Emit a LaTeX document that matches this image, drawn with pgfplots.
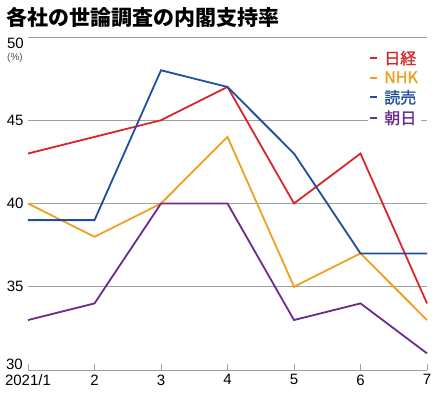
\documentclass[border=0pt]{standalone}
\usepackage{fontspec}
\setmainfont{Liberation Sans}
\newfontfamily\jp{Noto Sans CJK JP}
\newfontfamily\jpm[FakeBold=1.2]{Noto Sans CJK JP}
\usepackage{pgfplots}
\pgfplotsset{compat=1.18}
\definecolor{cNikkei}{HTML}{D9262C}
\definecolor{cNHK}{HTML}{F0A01E}
\definecolor{cYomiuri}{HTML}{1F4E9E}
\definecolor{cAsahi}{HTML}{6B2C8C}
\definecolor{gridc}{HTML}{A0A0A0}
\begin{document}
\begin{tikzpicture}[x=1pt,y=1pt]
\useasboundingbox (0,0) rectangle (438,398);
\node[anchor=west,font=\jp\bfseries\fontsize{21}{23}\selectfont] at (3,381) {各社の世論調査の内閣支持率};
\begin{axis}[
  at={(28pt,28pt)}, anchor=south west,
  scale only axis, width=399pt, height=333pt,
  xmin=1, xmax=7, ymin=30, ymax=50,
  axis x line*=bottom, axis y line*=left,
  y axis line style={draw=none},
  x axis line style={draw=gridc, line width=0.8pt},
  xtick={1,...,7}, xticklabels={2021/1,2,3,4,5,6,7},
  xtick align=inside, major tick length=6pt,
  x tick style={draw=gridc, line width=0.8pt},
  y tick style={draw=none},
  ytick={35,40,45},
  extra y ticks={50}, extra y tick labels={},
  extra y tick style={grid=major},
  ymajorgrids, grid style={draw=gridc, line width=0.8pt},
  tick label style={font=\fontsize{15}{16}\selectfont},
  /pgf/number format/assume math mode=true,
  yticklabel style={xshift=-1pt},
  xticklabel style={yshift=-1pt},
  every axis plot/.append style={line width=1.8pt, line join=miter},
  legend style={at={(0.985,0.968)}, anchor=north east, draw=none, fill=white,
    font=\jpm\fontsize{16}{17}\selectfont, row sep=1.5pt, inner sep=1pt},
  legend cell align=left,
  legend image code/.code={\draw[#1, line width=2pt] (0pt,0pt) -- (7pt,0pt);},
  clip=false,
]
\addplot[cNikkei] coordinates {(1,43) (2,44) (3,45) (4,47) (5,40) (6,43) (7,34)};
\addlegendentry{\hspace{4pt}\textcolor{cNikkei}{日経}}
\addplot[cNHK] coordinates {(1,40) (2,38) (3,40) (4,44) (5,35) (6,37) (7,33)};
\addlegendentry{\hspace{4pt}\textcolor{cNHK}{NHK}}
\addplot[cYomiuri] coordinates {(1,39) (2,39) (3,48) (4,47) (5,43) (6,37) (7,37)};
\addlegendentry{\hspace{4pt}\textcolor{cYomiuri}{読売}}
\addplot[cAsahi] coordinates {(1,33) (2,34) (3,40) (4,40) (5,33) (6,34) (7,31)};
\addlegendentry{\hspace{4pt}\textcolor{cAsahi}{朝日}}
\node[anchor=north east, font=\fontsize{15}{16}\selectfont, inner sep=0pt] at (axis cs:1,50) [xshift=-4pt, yshift=-1pt] {50};
\node[anchor=north east, font=\fontsize{10}{11}\selectfont, text=black!70, inner sep=0pt] at (axis cs:1,50) [xshift=-5pt, yshift=-16pt] {(\%)};
\node[anchor=south east, font=\fontsize{15}{16}\selectfont, inner sep=0pt] at (axis cs:1,30) [xshift=-5pt, yshift=0pt] {30};
\end{axis}
\end{tikzpicture}
\end{document}
